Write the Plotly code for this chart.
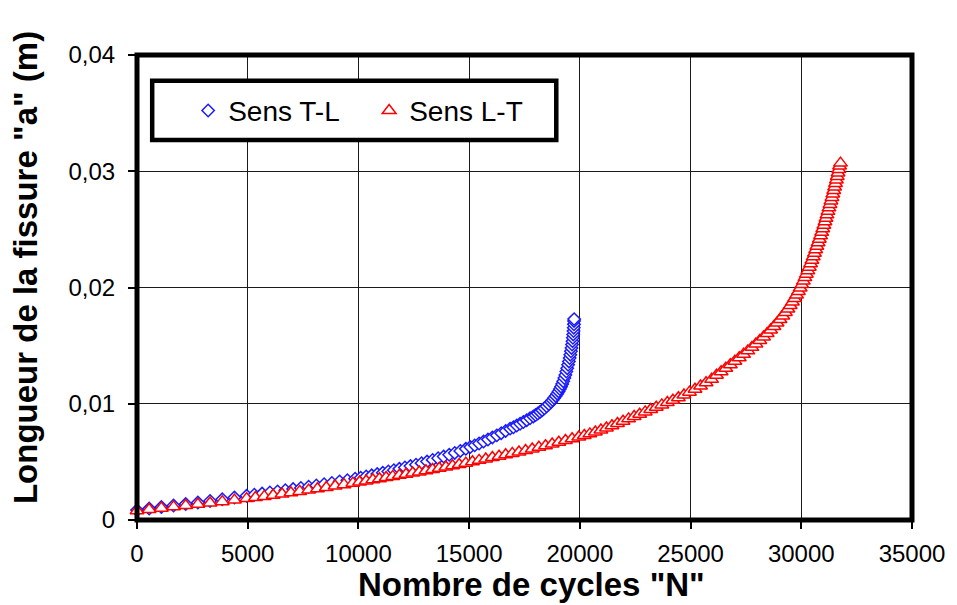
import plotly.graph_objects as go

# ---- data ----
blue_name = "Sens T-L"
blue_N = [0, 550, 1100, 1650, 2200, 2750, 3300, 3850, 4400, 4950,
          5300, 5650, 6000, 6350, 6700, 7050, 7400, 7750, 8100, 8450, 8800, 9150, 9500, 9850,
          10100, 10350, 10600, 10850, 11100, 11350, 11600, 11850, 12100, 12350, 12600, 12850,
          13100, 13350, 13600, 13850, 14100, 14350, 14600, 14850,
          15050, 15250, 15450, 15650, 15850, 16050, 16250, 16450, 16650, 16850,
          17000, 17150, 17300, 17450, 17600, 17750, 17900,
          18000, 18100, 18200, 18300, 18400, 18500, 18600, 18700,
          18770, 18840, 18910, 18980, 19040, 19100, 19150,
          19200, 19250, 19300, 19345, 19390, 19430, 19470, 19505, 19540, 19570, 19598,
          19624, 19648, 19668, 19686, 19701, 19714, 19724, 19732, 19738, 19742]
blue_a = [0.00085, 0.00098, 0.00111, 0.00124, 0.00137, 0.00150, 0.00164, 0.00178, 0.00193, 0.00208,
          0.00217, 0.00227, 0.00237, 0.00246, 0.00256, 0.00266, 0.00276, 0.00286, 0.00297, 0.00308,
          0.00319, 0.00331, 0.00343, 0.00355,
          0.00364, 0.00374, 0.00384, 0.00395, 0.00406, 0.00417, 0.00428, 0.00440, 0.00452, 0.00464,
          0.00476, 0.00489, 0.00503, 0.00517, 0.00531, 0.00546, 0.00561, 0.00577, 0.00594, 0.00612,
          0.00627, 0.00642, 0.00658, 0.00675, 0.00692, 0.00710, 0.00728, 0.00747, 0.00766, 0.00786,
          0.00798, 0.00813, 0.00828, 0.00843, 0.00859, 0.00875, 0.00891,
          0.00903, 0.00916, 0.00930, 0.00945, 0.00961, 0.00978, 0.00996, 0.01016,
          0.01032, 0.01049, 0.01067, 0.01087, 0.01106, 0.01127, 0.01147,
          0.01169, 0.01194, 0.01221, 0.01248, 0.01277, 0.01306, 0.01335, 0.01364, 0.01393, 0.01422,
          0.01451, 0.01480, 0.01509, 0.01538, 0.01567, 0.01596, 0.01625, 0.01654, 0.01683, 0.01712,
          0.01728]

red_name = "Sens L-T"
red_N = [0, 550, 1100, 1650, 2200, 2750, 3300, 3850, 4400, 4950,
         5350, 5750, 6150, 6550, 6950, 7350, 7750, 8150, 8550, 8950, 9350, 9750,
         10050, 10350, 10650, 10950, 11250, 11550, 11850, 12150, 12450, 12750, 13050, 13350,
         13650, 13950, 14250, 14550, 14850, 15150, 15450, 15750, 16050, 16350, 16650, 16950,
         17250, 17550, 17850, 18150, 18450, 18750, 19050, 19350, 19650, 19950,
         20200, 20450, 20700, 20950, 21200, 21450, 21700, 21950, 22200, 22450, 22700, 22950,
         23200, 23450, 23700, 23950, 24200, 24450, 24700, 24950, 25200, 25450, 25700, 25950,
         26170, 26380, 26590, 26795, 27000, 27200, 27395, 27585, 27770, 27950,
         28125, 28295, 28460, 28615, 28765, 28905, 29040, 29165, 29285, 29395,
         29500, 29600, 29695, 29785, 29870, 29950, 30025, 30095, 30165, 30230,
         30295, 30360, 30420, 30480, 30540, 30595, 30650, 30705, 30760, 30815,
         30870, 30920, 30970, 31020, 31070, 31115, 31160, 31205, 31250, 31295,
         31340, 31385, 31425, 31465, 31505, 31545, 31585, 31625, 31660, 31695, 31730, 31770]
red_a = [0.00080, 0.00091, 0.00102, 0.00113, 0.00124, 0.00135, 0.00146, 0.00158, 0.00171, 0.00184,
         0.00193, 0.00203, 0.00213, 0.00224, 0.00235, 0.00246, 0.00257, 0.00268, 0.00280, 0.00292,
         0.00304, 0.00317,
         0.00327, 0.00336, 0.00346, 0.00355, 0.00365, 0.00375, 0.00385, 0.00394, 0.00404, 0.00413,
         0.00423, 0.00434, 0.00445, 0.00456, 0.00467, 0.00478, 0.00489, 0.00501, 0.00513, 0.00525,
         0.00537, 0.00549, 0.00561, 0.00573, 0.00585, 0.00597, 0.00611, 0.00625, 0.00639, 0.00654,
         0.00669, 0.00684, 0.00699, 0.00714,
         0.00727, 0.00741, 0.00757, 0.00774, 0.00792, 0.00811, 0.00830, 0.00850, 0.00870, 0.00890,
         0.00910, 0.00930, 0.00950, 0.00970, 0.00990, 0.01010, 0.01030, 0.01052, 0.01075, 0.01100,
         0.01125, 0.01152, 0.01180, 0.01210,
         0.01245, 0.01275, 0.01305, 0.01335, 0.01365, 0.01395, 0.01425, 0.01455, 0.01485, 0.01515,
         0.01545, 0.01575, 0.01605, 0.01635, 0.01665, 0.01695, 0.01725, 0.01755, 0.01785, 0.01815,
         0.01845, 0.01875, 0.01905, 0.01935, 0.01965, 0.01995, 0.02025, 0.02055, 0.02085, 0.02115,
         0.02145, 0.02175, 0.02205, 0.02235, 0.02265, 0.02295, 0.02325, 0.02355, 0.02385, 0.02415,
         0.02445, 0.02475, 0.02505, 0.02535, 0.02565, 0.02595, 0.02625, 0.02655, 0.02685, 0.02715,
         0.02745, 0.02775, 0.02805, 0.02835, 0.02865, 0.02895, 0.02925, 0.02955, 0.02985, 0.03015,
         0.03045, 0.03070]

x_ticks = [0, 5000, 10000, 15000, 20000, 25000, 30000, 35000]
x_tick_labels = ["0", "5000", "10000", "15000", "20000", "25000", "30000", "35000"]
y_ticks = [0, 0.01, 0.02, 0.03, 0.04]
y_tick_labels = ["0", "0,01", "0,02", "0,03", "0,04"]

x_title = 'Nombre de cycles "N"'
y_title = 'Longueur de la fissure "a" (m)'

FONT = "Liberation Sans, Arial, sans-serif"

fig = go.Figure()
fig.add_trace(go.Scatter(
    x=blue_N, y=blue_a, name=blue_name, mode="markers", cliponaxis=False,
    marker=dict(symbol="diamond", size=9.5, color="white",
                line=dict(color="#1a1aff", width=1.5)),
))
fig.add_trace(go.Scatter(
    x=red_N, y=red_a, name=red_name, mode="markers", cliponaxis=False,
    marker=dict(symbol="triangle-up", size=12, color="white",
                line=dict(color="#ff0000", width=1.5)),
))

axis_common = dict(
    showgrid=True, gridcolor="#1a1a1a", gridwidth=1.3,
    zeroline=False, showline=False,
    ticks="outside", ticklen=8, tickwidth=1.5, tickcolor="black",
    tickfont=dict(family=FONT, size=24, color="black"),
)

fig.update_layout(
    width=957, height=605,
    margin=dict(l=137, r=42, t=55, b=85),
    paper_bgcolor="white", plot_bgcolor="white",
    font=dict(family=FONT, color="black"),
    xaxis=dict(range=[0, 35000], tickvals=x_ticks, ticktext=x_tick_labels,
               ticklabelstandoff=4, **axis_common),
    yaxis=dict(range=[0, 0.04], tickvals=y_ticks, ticktext=y_tick_labels,
               ticklabelstandoff=8, **axis_common),
    showlegend=True,
    legend=dict(orientation="h", x=0.066, xanchor="left", y=0.88, yanchor="middle",
                bgcolor="rgba(0,0,0,0)", borderwidth=0,
                font=dict(family=FONT, size=28, color="black"),
                entrywidth=136, entrywidthmode="pixels"),
    shapes=[
        dict(type="rect", xref="paper", yref="paper", x0=0.0196, x1=0.541, y0=0.817, y1=0.9447,
             line=dict(color="black", width=4.5), fillcolor="white", layer="above"),
        dict(type="rect", xref="paper", yref="paper", x0=0, x1=1, y0=0, y1=1,
             line=dict(color="black", width=5), fillcolor="rgba(0,0,0,0)", layer="above"),
    ],
    annotations=[
        dict(text=x_title, xref="paper", yref="paper", x=0.5087, y=-0.1395,
             xanchor="center", yanchor="middle", showarrow=False,
             font=dict(family=FONT, size=33, color="black", weight="bold")),
        dict(text=y_title, xref="paper", yref="paper", x=-0.1447, y=0.5436,
             xanchor="center", yanchor="middle", showarrow=False, textangle=-90,
             font=dict(family=FONT, size=33, color="black", weight="bold")),
    ],
)

fig.write_html("out.html")
